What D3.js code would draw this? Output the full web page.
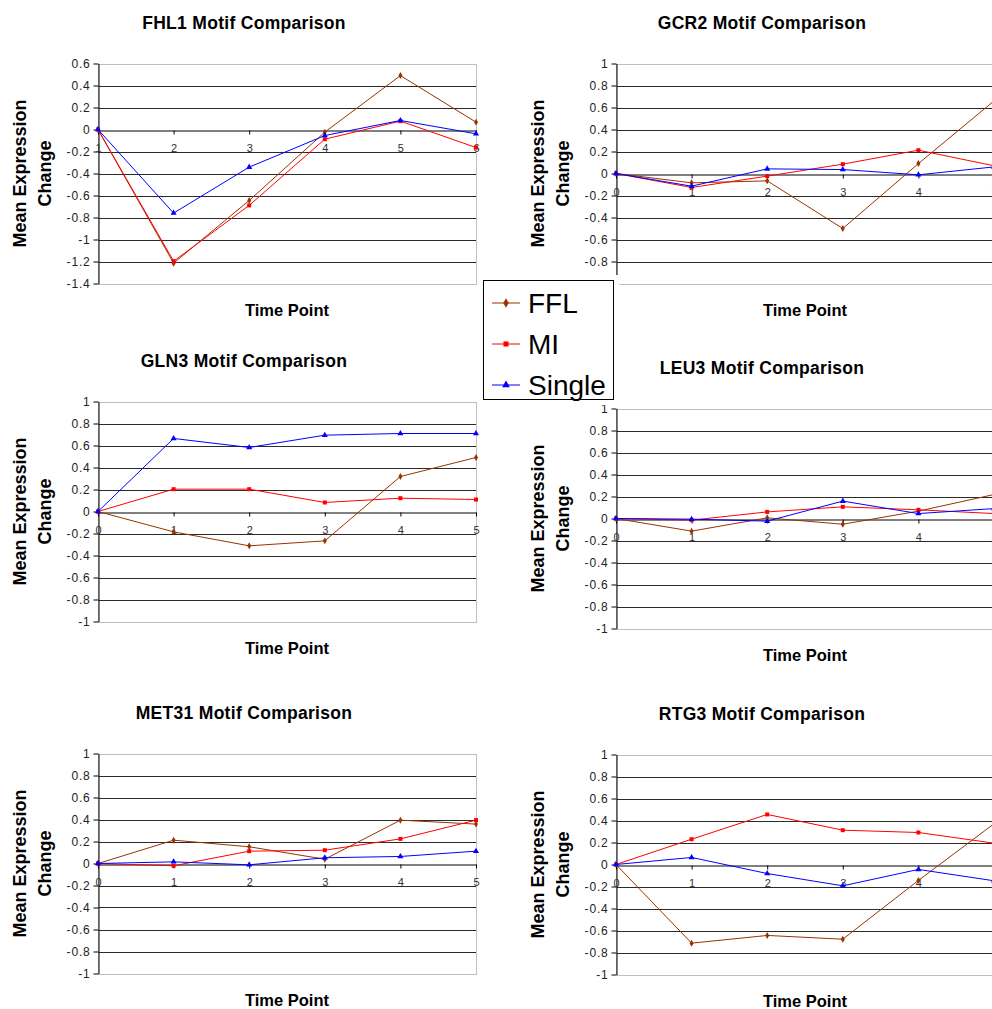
<!DOCTYPE html>
<html>
<head>
<meta charset="utf-8">
<script src="https://cdn.jsdelivr.net/npm/d3@7"></script>
<style>
  html, body { margin: 0; padding: 0; background: #fff; }
  svg { display: block; font-family: "Liberation Sans", Arial, sans-serif; }
</style>
</head>
<body>
<svg id="chart" width="992" height="1009"></svg>
<script>
// ---- data ----
const seriesNames = ["FFL", "MI", "Single"];
const timePointsFHL1 = ["1", "2", "3", "4", "5", "6"];
const timePoints = ["0", "1", "2", "3", "4", "5"];

const fhl1FFL    = [0, -1.215, -0.645, -0.024, 0.49, 0.067];
const fhl1MI     = [0, -1.197, -0.69, -0.088, 0.076, -0.164];
const fhl1Single = [0, -0.76, -0.342, -0.055, 0.082, -0.039];

const gcr2FFL    = [0, -0.085, -0.067, -0.5, 0.09, 0.66];
const gcr2MI     = [0, -0.127, -0.024, 0.085, 0.212, 0.07];
const gcr2Single = [0, -0.115, 0.042, 0.036, -0.012, 0.06];

const gln3FFL    = [0, -0.185, -0.312, -0.267, 0.318, 0.491];
const gln3MI     = [0, 0.203, 0.203, 0.082, 0.121, 0.109];
const gln3Single = [0, 0.664, 0.582, 0.694, 0.709, 0.709];

const leu3FFL    = [0, -0.115, 0.006, -0.052, 0.067, 0.218];
const leu3MI     = [0, -0.015, 0.06, 0.106, 0.079, 0.045];
const leu3Single = [0, -0.006, -0.024, 0.158, 0.045, 0.09];

const met31FFL    = [0, 0.212, 0.152, 0.039, 0.394, 0.358];
const met31MI     = [0, -0.021, 0.112, 0.121, 0.224, 0.394];
const met31Single = [0, 0.015, -0.012, 0.052, 0.064, 0.112];

const rtg3FFL    = [0, -0.715, -0.645, -0.679, -0.145, 0.37];
const rtg3MI     = [0, 0.23, 0.455, 0.312, 0.291, 0.194];
const rtg3Single = [0, 0.064, -0.082, -0.194, -0.045, -0.148];

const yRangeFHL1 = [-1.4, 0.6];
const yRangeStd  = [-1, 1];

// ---- styles ----
const colors  = { FFL: "#993300", MI: "#ff0000", Single: "#0000ff" };
const symbols = { FFL: d3.symbolDiamond, MI: d3.symbolSquare, Single: d3.symbolTriangle };

const panels = [
  { title: "FHL1 Motif Comparison", cats: timePointsFHL1, yr: yRangeFHL1, left: 98,  top: 63.5,  values: [fhl1FFL, fhl1MI, fhl1Single] },
  { title: "GCR2 Motif Comparison", cats: timePoints,     yr: yRangeStd,  left: 616, top: 63.5,  values: [gcr2FFL, gcr2MI, gcr2Single] },
  { title: "GLN3 Motif Comparison", cats: timePoints,     yr: yRangeStd,  left: 98,  top: 401.5, values: [gln3FFL, gln3MI, gln3Single] },
  { title: "LEU3 Motif Comparison", cats: timePoints,     yr: yRangeStd,  left: 616, top: 408.5, values: [leu3FFL, leu3MI, leu3Single] },
  { title: "MET31 Motif Comparison", cats: timePoints,    yr: yRangeStd,  left: 98,  top: 753.5, values: [met31FFL, met31MI, met31Single] },
  { title: "RTG3 Motif Comparison", cats: timePoints,     yr: yRangeStd,  left: 616, top: 754.5, values: [rtg3FFL, rtg3MI, rtg3Single] }
];

const plotW = 378, plotH = 220;
const svg = d3.select("#chart");
const fmt = d => String(Math.round(d * 10) / 10);

panels.forEach(p => {
  const g = svg.append("g");
  const x = d3.scalePoint().domain(p.cats).range([p.left, p.left + plotW]);
  const y = d3.scaleLinear().domain(p.yr).range([p.top + plotH, p.top]);
  const ticks = d3.range(Math.round(p.yr[0] * 10), Math.round(p.yr[1] * 10) + 1, 2).map(v => v / 10);

  // horizontal gridlines
  g.append("g").selectAll("line")
    .data(ticks.filter(t => t > p.yr[0] && t < p.yr[1] && t !== 0))
    .join("line")
    .attr("x1", p.left).attr("x2", p.left + plotW)
    .attr("y1", d => Math.round(y(d)) + 0.5).attr("y2", d => Math.round(y(d)) + 0.5)
    .attr("stroke", "#2a2a2a").attr("stroke-width", 1);

  // plot area frame
  g.append("rect")
    .attr("x", p.left + 0.5).attr("y", Math.round(p.top) + 0.5)
    .attr("width", plotW).attr("height", plotH)
    .attr("fill", "none").attr("stroke", "#c0c0c0").attr("stroke-width", 1);

  // y axis
  const yAxis = g.append("g")
    .attr("transform", `translate(${p.left + 0.5},0)`)
    .call(d3.axisLeft(y).tickValues(ticks).tickFormat(fmt).tickSize(5).tickSizeOuter(0).tickPadding(3));
  yAxis.select(".domain").attr("stroke", "#000");
  yAxis.selectAll(".tick line").attr("stroke", "#000");
  yAxis.selectAll(".tick text")
    .attr("font-size", "12px").attr("fill", "#222").attr("letter-spacing", "0.8px")
    .attr("font-family", "'Liberation Sans', Arial, sans-serif");

  // x axis across the zero line
  const xAxis = g.append("g")
    .attr("transform", `translate(0,${Math.round(y(0)) + 0.5})`)
    .call(d3.axisBottom(x).tickSize(4).tickSizeOuter(0).tickPadding(10));
  xAxis.select(".domain").attr("stroke", "#000");
  xAxis.selectAll(".tick line").attr("stroke", "#000");
  xAxis.selectAll(".tick text")
    .attr("font-size", "11px").attr("fill", "#333")
    .attr("font-family", "'Liberation Sans', Arial, sans-serif");

  // series lines and markers
  seriesNames.forEach((name, si) => {
    const vals = p.values[si];
    const pts = p.cats.map((c, i) => [x(c), y(vals[i])]);
    g.append("path")
      .attr("d", d3.line()(pts))
      .attr("fill", "none").attr("stroke", colors[name]).attr("stroke-width", 1);
    g.append("g").selectAll("path")
      .data(pts).join("path")
      .attr("transform", d => `translate(${d[0]},${d[1]})`)
      .attr("d", d3.symbol(symbols[name], name === "FFL" ? 14 : 16))
      .attr("fill", colors[name]);
  });

  // chart title
  const cx = p.left < 500 ? 244 : 762;
  g.append("text")
    .attr("x", cx).attr("y", p.top - 41)
    .attr("text-anchor", "middle").attr("dominant-baseline", "central")
    .attr("font-size", "17.5px").attr("font-weight", "bold").attr("letter-spacing", "0.3px")
    .text(p.title);

  // x axis title
  g.append("text")
    .attr("x", p.left + plotW / 2).attr("y", p.top + plotH + 26)
    .attr("text-anchor", "middle").attr("dominant-baseline", "central")
    .attr("font-size", "16.5px").attr("font-weight", "bold")
    .text("Time Point");

  // y axis title (two lines)
  const cy = p.top + plotH / 2;
  const yt = g.append("text")
    .attr("transform", `translate(${p.left - 78},${cy}) rotate(-90)`)
    .attr("text-anchor", "middle")
    .attr("font-size", "18px").attr("font-weight", "bold");
  yt.append("tspan").attr("x", 0).attr("y", 0).attr("dominant-baseline", "central").text("Mean Expression");
  yt.append("tspan").attr("x", 0).attr("y", 25).attr("dominant-baseline", "central").text("Change");
});

// ---- legend ----
const lg = svg.append("g");
lg.append("rect").attr("x", 479).attr("y", 275).attr("width", 140).attr("height", 130).attr("fill", "#fff");
lg.append("rect").attr("x", 483.5).attr("y", 280.5).attr("width", 130).attr("height", 119)
  .attr("fill", "#fff").attr("stroke", "#000").attr("stroke-width", 1);
const legendY = d3.scalePoint().domain(seriesNames).range([303, 385]);
seriesNames.forEach(name => {
  const yy = legendY(name);
  lg.append("line").attr("x1", 492).attr("x2", 520).attr("y1", yy).attr("y2", yy)
    .attr("stroke", colors[name]).attr("stroke-width", 1);
  lg.append("path").attr("transform", `translate(506,${yy})`)
    .attr("d", d3.symbol(symbols[name], 26)).attr("fill", colors[name]);
  lg.append("text").attr("x", 528).attr("y", yy).attr("dominant-baseline", "central")
    .attr("font-size", "28px").attr("fill", "#000").text(name);
});
</script>
</body>
</html>
